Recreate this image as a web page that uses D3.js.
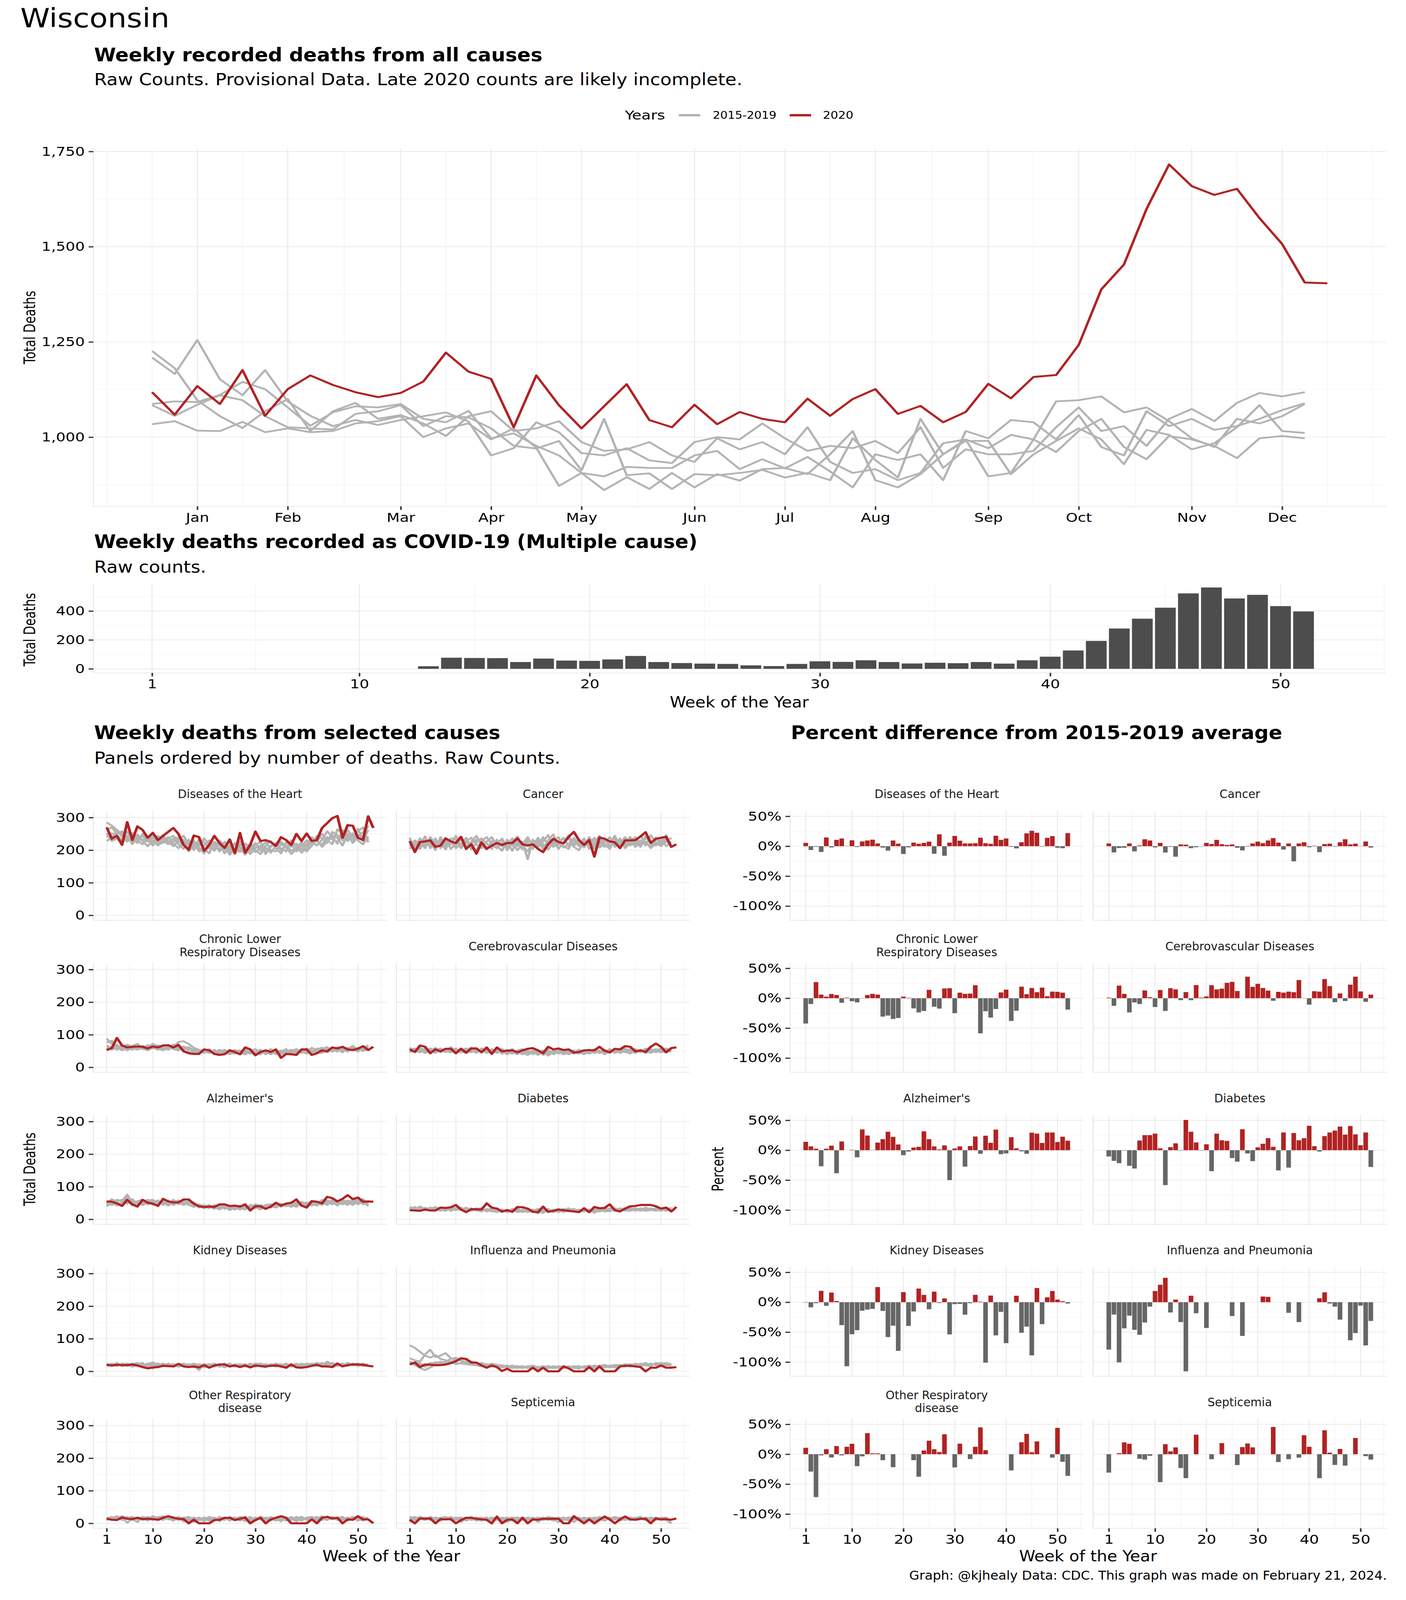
<!DOCTYPE html>
<html>
<head>
<meta charset="utf-8">
<script src="https://cdn.jsdelivr.net/npm/d3@7"></script>
<style>
  html, body { margin: 0; padding: 0; background: #fff; overflow: hidden; }
  svg { display: block; width: 100vw; height: 100vh; }
</style>
</head>
<body>
<script>
// ---------- data ----------
var monthTicks = [3, 7, 12, 16, 20, 25, 29, 33, 38, 42, 47, 51];
var monthLabels = ["Jan","Feb","Mar","Apr","May","Jun","Jul","Aug","Sep","Oct","Nov","Dec"];

var allCause2020 = [1118,1059,1134,1087,1176,1056,1126,1162,1137,1118,1105,1116,1146,1222,1172,1153,1026,1162,1084,1023,1081,1139,1045,1026,1085,1034,1066,1048,1039,1101,1056,1100,1126,1061,1082,1039,1066,1140,1102,1158,1163,1242,1388,1453,1599,1716,1659,1636,1652,1575,1507,1406,1404];
var allCausePastA = [1226,1181,1097,1055,1024,1068,1100,1016,1068,1090,1048,1058,1036,1003,1055,1068,1016,1023,1042,987,964,968,987,952,935,997,968,987,955,1026,935,906,916,887,906,984,994,971,1006,994,1094,1097,1107,1065,1078,1042,997,974,1048,1036,1055,1087];
var allCausePastB = [1209,1166,1255,1152,1110,1176,1094,1056,1029,1045,1032,1045,1055,1065,1041,952,971,1039,1013,958,952,971,939,932,987,1000,994,1036,997,964,977,971,990,958,1026,919,968,955,955,964,1026,1078,1016,1029,977,1048,1074,1042,1090,1116,1107,1118];
var allCausePastC = [1087,1094,1092,1111,1145,1126,1078,1030,1065,1081,1078,1087,1048,1039,1069,997,1010,977,952,906,897,922,919,919,952,964,916,942,918,948,910,868,955,940,955,887,1016,997,1045,1039,994,1058,974,952,1068,1029,1048,1019,1029,1048,1071,1089];
var allCausePastD = [1084,1056,1085,1110,1097,1055,1026,1023,1020,1061,1068,1084,1029,1055,1052,1023,977,970,990,913,1048,900,905,864,903,900,906,914,894,906,887,997,940,894,1048,955,990,990,903,955,990,1023,994,929,1019,1006,968,984,1026,1084,1016,1011];
var allCausePastE = [1034,1042,1017,1016,1040,1013,1023,1013,1016,1036,1042,1055,1000,1023,1036,994,1023,972,872,906,861,895,864,906,868,903,886,916,919,903,955,1016,887,868,903,955,994,897,906,994,961,1016,1048,974,942,1003,994,977,945,997,1003,997];

var covid2020 = [0,0,0,0,0,0,0,0,0,0,0,0,18,77,75,74,47,71,57,55,65,89,47,40,36,34,24,19,34,52,48,59,47,37,42,39,47,36,59,84,127,193,279,347,423,522,563,487,512,434,397,0];

var heart2020 = [270,235,244,216,286,231,273,262,238,253,231,244,256,268,250,216,201,245,240,198,216,244,222,207,233,190,253,192,216,257,228,231,225,213,240,231,216,250,228,251,228,231,268,283,298,305,238,277,275,238,231,304,268];
var heartPast = [
  [285,275,262,248,240,252,236,244,226,238,230,222,236,244,228,216,226,210,232,224,206,220,196,212,204,218,198,210,188,206,214,196,210,222,200,214,198,208,224,212,236,228,216,240,232,226,248,236,252,230,218,242],
  [262,270,250,258,234,226,248,230,242,222,244,230,218,226,240,230,206,224,214,236,218,198,222,190,214,200,226,204,220,194,208,226,200,196,220,206,222,196,212,230,218,244,236,222,256,246,230,262,240,258,270,224],
  [240,252,246,230,256,238,222,250,232,246,220,238,228,212,230,244,218,230,196,214,230,212,204,226,196,222,210,186,206,222,198,214,228,206,190,224,210,220,200,218,240,226,250,232,218,264,252,228,248,236,242,276],
  [228,238,258,242,226,244,230,218,236,214,232,246,222,236,218,204,232,200,222,206,190,226,214,200,228,190,216,212,198,214,226,188,214,218,206,196,230,212,192,206,226,214,232,258,240,220,262,244,230,266,228,262],
  [252,228,236,220,244,218,240,228,212,230,214,226,240,220,206,224,196,216,208,190,212,204,230,210,186,206,194,220,210,200,188,208,192,214,226,210,188,204,218,196,214,232,210,226,246,238,214,250,222,242,256,232]
];
var heartPct = [5.6,-6.3,-1,-9.6,14.6,-2,10.6,12.9,0.3,9.9,-1.3,7.9,9.6,10.9,4.6,-2.3,-7.3,9.6,4.3,-12.9,-2,6,4,5.6,7.6,-12.6,19.9,-15.9,6,17.2,9.3,4.6,4.6,5,14.2,5,4,17.5,10.6,12.9,-1,-3.6,6.6,21.5,25.8,22.5,-0.7,13.9,16.9,-2.6,-3.3,21.9];

var cancer2020 = [228,194,225,227,230,210,214,236,227,222,241,204,218,189,224,204,214,222,216,222,222,236,218,214,218,204,194,218,235,225,221,241,256,231,216,231,180,239,235,227,224,206,230,230,231,242,255,222,235,238,241,210,218];
var cancerPast = [
  [212,230,218,242,206,226,214,238,204,220,232,210,226,244,214,202,228,216,236,208,222,200,218,240,212,226,204,230,248,216,224,236,210,200,226,218,238,214,230,222,244,208,226,240,218,230,214,246,224,216,234,222],
  [230,208,236,214,226,200,240,216,228,206,218,238,202,224,236,220,204,232,212,226,198,234,210,222,204,238,218,202,226,240,208,220,230,212,236,204,222,244,210,228,216,236,206,222,232,210,242,220,230,238,212,226],
  [204,222,226,206,240,218,224,202,236,232,206,224,214,200,228,240,218,206,222,214,236,212,226,172,232,214,226,246,210,222,238,212,220,232,208,240,214,224,236,212,226,218,240,214,226,244,222,212,238,220,246,210],
  [222,216,204,230,214,236,206,226,218,244,212,228,238,218,206,226,240,214,198,232,214,224,202,230,220,208,240,216,234,204,222,246,214,226,218,230,206,220,224,240,210,228,218,232,210,224,236,228,214,232,224,238],
  [238,200,214,222,232,212,230,210,224,214,238,202,220,232,222,208,212,226,230,200,226,242,214,196,226,232,210,224,218,228,212,204,238,218,230,222,232,208,218,204,234,222,212,228,240,218,226,206,222,212,230,216]
];
var cancerPct = [4.6,-10.3,-3,-2.6,4.6,-8.6,1.3,11.6,9.6,-2,5.6,-10.6,-1,-17.5,3,2.6,-3.3,-1.7,0.3,5.6,3.6,10.6,3.3,2,3,-2.6,-7,-0.7,4.6,7.6,5,9.6,13.6,6,-5.6,4.6,-25.2,4.6,6.6,-1.7,0.7,-9.9,3.6,4.3,-0.7,6.6,11.6,3,4.3,0.3,7.9,-2.3];

var clrd2020 = [53,59,90,67,61,63,64,63,58,64,61,67,68,61,69,49,43,41,41,55,52,41,38,40,52,47,40,61,55,37,47,52,47,55,29,41,40,38,55,55,38,43,52,49,61,58,63,55,53,57,65,53,63];
var clrdPast = [
  [88,72,66,60,70,62,58,66,60,72,64,58,68,62,78,80,72,60,54,48,56,44,50,42,54,48,40,52,46,38,50,44,52,40,48,56,42,50,46,58,50,44,56,62,48,54,58,50,60,56,64,60],
  [76,82,60,68,58,66,72,60,68,62,56,66,60,70,64,56,62,52,46,54,48,52,42,50,46,54,44,40,50,56,42,48,40,50,44,52,48,40,54,46,60,52,48,56,52,62,50,56,66,52,58,68],
  [62,58,70,56,64,58,60,56,62,58,68,60,54,62,58,64,58,48,52,44,50,46,54,46,40,50,52,46,42,48,54,40,48,46,52,42,50,56,44,52,46,56,60,50,58,48,62,54,52,60,50,56],
  [56,64,54,62,52,60,54,62,56,64,58,52,62,56,52,60,54,56,42,50,44,54,40,48,52,44,48,54,46,44,40,52,44,54,40,48,54,46,50,42,52,48,44,52,60,56,46,60,56,48,62,54],
  [68,54,62,52,60,54,64,58,52,60,54,62,56,60,66,52,48,44,50,46,52,40,48,54,44,42,50,44,52,40,48,46,56,44,50,46,40,52,48,56,44,58,52,46,54,50,56,48,62,58,54,64]
];
var clrdPct = [-42.3,-9.7,27,6,2.7,7,5.3,-7.7,1,-5,-7,0.3,5.3,7.3,6,-30.7,-29,-34.7,-33,2.7,0.7,-17,-23.7,-21.3,14,-14.3,-17.3,16.3,16.7,-25,9.3,7.3,7.7,21.7,-58.7,-21.7,-32.3,-18,9.7,14.3,-38,-21,19.3,6.7,17,10,17.7,3.3,11,10.7,9.3,-19];

var cerebro2020 = [55,47,67,63,43,55,49,57,57,43,57,45,58,58,46,61,41,61,49,51,52,46,52,57,59,52,43,63,55,58,53,55,45,47,52,53,52,63,51,46,57,55,65,63,49,52,47,63,73,63,46,59,61];
var cerebroPast = [
  [60,52,56,48,58,50,54,46,62,50,56,48,52,44,58,50,46,54,42,50,56,44,48,52,40,46,52,36,48,54,44,50,46,42,52,48,56,46,50,44,54,48,58,50,44,52,48,56,50,46,54,58],
  [54,58,48,56,50,60,46,54,50,58,46,54,60,50,48,56,52,44,54,46,42,52,56,44,50,42,46,54,40,48,52,46,42,50,44,54,46,52,40,50,48,54,46,52,56,48,54,44,52,58,48,52],
  [50,48,60,52,46,54,58,50,46,54,52,58,46,54,52,46,56,48,50,40,50,48,40,50,46,54,38,44,50,42,48,54,50,46,40,50,44,48,54,46,52,44,50,56,48,54,44,50,56,48,46,56],
  [46,56,52,44,54,48,50,56,52,46,58,50,54,48,56,44,50,52,46,54,46,40,50,46,52,38,48,42,46,50,40,44,52,48,46,42,50,44,48,52,46,52,54,46,52,46,58,52,46,54,50,48],
  [58,50,46,58,52,44,52,48,56,52,48,44,50,58,46,52,44,50,56,48,52,46,44,38,48,50,44,50,44,46,50,40,46,54,48,46,52,50,46,56,44,50,48,42,54,50,46,54,48,52,58,50]
];
var cerebroPct = [1,-12.7,21,7.3,-23.7,-7,-9.7,13,1.7,-14.7,13.7,-21.3,16.7,14.7,-3.3,10.3,-3.3,22,1,3,21.7,14.7,16,25.7,27.3,12,0,36,19,24,17,12.7,-4.3,10.7,9.3,11,10,30.3,0.3,-10.7,11.7,11,32,20.3,-6.7,8,-4.7,22.7,36,11.3,-6,6];

var alz2020 = [55,54,49,41,60,46,39,60,51,48,41,63,55,52,52,61,61,48,40,38,39,38,46,46,41,42,39,46,27,40,40,32,39,51,42,48,51,61,42,36,56,54,49,69,65,55,63,74,62,67,54,55,54];
var alzPast = [
  [48,62,52,44,70,56,46,54,60,44,52,48,58,46,54,50,56,42,38,44,36,40,46,32,40,36,30,42,38,34,44,40,36,48,42,46,50,40,54,46,52,48,56,44,60,50,46,58,52,60,48,56],
  [40,50,56,60,48,58,52,44,50,56,46,54,42,52,58,46,48,52,40,34,42,38,30,40,28,36,42,34,40,38,30,44,46,38,44,40,48,52,44,50,42,54,48,58,52,46,62,50,56,46,54,44],
  [56,44,48,52,58,42,56,60,46,52,58,44,50,56,46,58,44,38,46,40,34,44,38,36,34,42,34,30,44,40,38,36,42,44,38,50,42,46,48,52,46,42,52,50,48,56,52,44,62,52,58,40],
  [52,56,42,48,52,62,44,50,54,48,42,58,54,44,52,54,50,46,36,42,40,32,42,38,30,34,38,40,32,42,34,40,38,42,48,44,38,48,42,46,56,50,44,54,46,52,48,56,48,64,46,52],
  [44,48,60,56,76,50,48,46,58,60,50,52,46,60,50,44,52,48,42,38,44,36,34,44,38,30,40,36,34,46,42,34,40,36,46,42,44,38,52,40,50,46,60,48,56,42,58,52,44,56,62,48]
];
var alzPct = [14,6.4,2.5,-26.8,2.5,7.6,-38.5,14.6,0,0.6,-11.8,34.7,24.5,0.3,12.7,18.5,30.9,22.3,9.6,-8.3,-2.2,4.5,5.7,31.5,18.5,6.4,1.3,8,-50,2.9,6.4,-27.4,7,22.9,-6,24.2,12.4,34.4,-6.7,-5.4,21.7,3.2,-1.9,-6,29.3,27.7,12.1,29.6,29.6,13.7,22.6,15.9];

var diab2020 = [28,27,26,30,27,27,36,35,37,44,30,22,31,31,30,49,36,33,24,28,23,38,37,33,23,22,39,23,26,30,28,26,24,22,34,22,38,34,35,46,28,24,33,40,41,44,44,44,40,33,36,24,38];
var diabPast = [
  [34,28,40,30,36,32,26,32,28,34,30,36,26,30,32,24,30,28,22,30,26,34,22,28,30,24,20,28,26,30,22,28,32,26,24,30,26,34,28,24,32,28,30,36,26,32,28,34,30,26,32,28],
  [28,36,30,34,28,38,30,26,34,28,36,26,32,28,24,32,26,22,30,24,32,26,28,22,26,32,28,24,30,22,28,34,24,30,28,26,32,24,30,34,26,34,28,30,34,28,36,30,26,34,28,36],
  [38,30,34,28,32,30,34,36,26,32,28,32,28,34,30,28,24,30,26,28,24,30,26,30,22,28,24,32,22,28,30,24,28,22,32,28,24,30,26,28,30,24,34,28,32,26,34,28,32,30,26,32],
  [30,34,26,36,30,28,32,28,36,30,34,30,34,26,28,30,32,26,28,22,28,24,30,26,28,18,30,26,28,32,26,30,26,28,30,22,28,26,32,30,28,32,26,32,28,34,30,32,28,32,30,26],
  [32,38,28,30,34,36,28,34,30,36,32,28,30,32,34,26,28,32,24,26,30,22,24,32,26,30,26,28,24,26,32,26,30,24,26,30,20,28,24,26,34,30,28,26,30,30,26,28,34,28,36,30]
];
var diabPct = [-10.5,-17.8,-21.7,-0.6,-26.1,-30.6,16.2,25.2,25.2,27.7,3.2,-58.3,5.1,11.5,-0.6,50.6,30.9,13,-0.6,9.9,-35,27.7,16.6,15.6,-13.1,-19.1,35,-5.4,-18.2,4.8,10.8,20.1,5.7,-33.8,29.6,-29,28.7,16.6,20.1,40.8,6.7,-2.2,23.6,29.6,32.8,39.5,26.1,40.4,26.4,8.3,29.6,-28];

var kidney2020 = [20,18,20,19,19,21,18,13,9,12,13,17,16,15,23,15,13,15,12,19,11,18,21,21,15,18,13,18,12,18,16,15,17,18,15,11,21,12,11,13,17,20,15,15,13,24,15,19,21,21,20,17,15];
var kidneyPast = [
  [22,18,26,16,20,24,18,14,22,28,18,22,16,20,14,18,22,16,20,12,18,24,14,20,16,22,18,14,20,18,24,16,22,18,14,20,16,22,18,24,20,16,22,14,26,18,20,16,22,24,18,20],
  [18,24,20,22,16,18,22,26,12,18,22,16,24,18,22,20,14,22,16,22,20,14,22,18,24,14,20,22,16,22,18,20,16,24,20,18,22,14,24,18,16,22,26,18,20,24,16,22,18,20,24,16],
  [16,20,16,24,22,14,20,18,24,8,20,24,18,16,20,24,18,12,22,18,14,20,18,12,20,18,22,16,24,14,20,22,18,14,22,16,20,18,14,20,24,18,14,22,18,20,24,18,24,16,20,22],
  [24,16,22,18,24,20,16,22,18,20,14,20,22,14,18,16,20,18,4,20,22,18,16,22,18,20,14,18,22,20,16,12,22,20,18,24,14,20,22,16,18,24,20,24,16,22,18,26,20,22,16,18],
  [20,22,18,20,18,22,26,16,20,22,24,18,20,22,16,22,18,24,18,16,20,16,20,24,14,18,22,20,18,24,22,18,20,22,16,22,18,24,16,22,20,26,18,30,22,16,22,20,24,18,22,20]
];
var kidneyPct = [-0.6,-8.5,-1.6,19,-6,16.1,1.9,-38.3,-107,-53.5,-46.8,-14.2,-12.3,-11.1,25.3,-14.6,-58.2,-39.2,-81.3,16.8,-39.6,-15.5,22.8,12.3,-11.7,17.7,-1.3,6.3,-53.8,-3.2,-2.8,-20.9,-1.6,12.3,0.9,-101,11.1,-55.4,-16.1,-68.4,0,10.8,-51,-40.8,-88.9,23.7,-36.7,8.2,18.7,4.4,1.6,-2.2];

var flu2020 = [21,27,13,21,20,19,19,21,25,31,40,38,27,27,18,11,18,13,1,8,0,0,0,0,11,0,11,0,0,0,15,9,0,0,0,13,0,15,0,0,0,15,17,17,15,13,0,11,11,18,11,11,13];
var fluPast = [
  [80,72,60,48,42,50,38,34,30,26,24,22,20,18,16,18,14,16,12,14,10,12,14,10,12,8,12,10,14,10,12,16,10,14,12,10,16,12,14,18,16,20,14,18,22,16,20,24,18,22,26,20],
  [40,34,30,52,66,44,48,56,40,36,32,28,26,24,20,22,18,20,16,12,18,14,10,16,12,14,10,16,12,14,10,12,16,12,14,18,12,16,20,14,18,16,22,20,16,24,18,22,20,26,20,24],
  [30,24,20,14,22,28,26,20,30,34,40,36,30,26,22,18,24,20,18,16,14,16,12,14,18,12,16,14,10,16,14,12,14,16,10,14,18,14,12,16,20,18,16,22,18,20,26,18,22,20,24,18],
  [26,20,10,4,12,20,24,30,38,42,34,28,24,22,26,20,16,14,18,12,16,10,14,12,8,14,12,10,16,12,14,10,12,8,16,12,14,18,16,12,14,18,20,16,24,18,22,20,24,18,22,16],
  [22,28,24,18,26,22,30,24,28,22,26,30,28,22,18,14,20,12,14,18,12,14,16,10,14,10,14,12,10,12,16,14,10,12,14,16,10,12,14,16,12,14,18,14,20,22,18,16,26,22,18,20]
];
var fluPct = [-79.1,-20.6,-100.6,-43.7,-22.5,-46.2,-54.4,-33.9,-7.3,18.7,29.1,40.8,-17.1,4.4,-33.2,-115.5,10.8,-18.4,null,-43,null,null,null,null,-23.1,null,-56.3,null,null,null,9.5,8.9,null,null,null,-17.7,null,-33.2,null,null,null,6.6,16.5,-2.2,-7.3,-29.1,null,-63.6,-51.6,-5.7,-72.2,-31.3];

var otherResp2020 = [14,11,10,18,14,13,17,13,14,13,11,17,22,17,14,13,0,11,0,0,0,10,11,17,17,10,14,18,0,10,17,0,12,17,22,17,0,0,0,0,12,0,17,20,15,17,0,12,11,22,12,12,0];
var otherRespPast = [
  [18,14,20,10,16,20,12,18,14,22,16,10,18,14,20,12,8,16,14,6,18,12,16,10,20,14,8,16,12,18,14,10,20,12,16,8,18,14,20,10,16,12,22,14,18,10,16,12,20,14,8,16],
  [14,20,12,18,2,14,18,10,20,14,18,22,12,16,10,18,14,4,12,18,14,8,20,12,16,10,18,6,14,12,20,16,8,18,12,14,10,20,12,16,14,20,10,18,12,16,20,8,14,18,12,14],
  [10,16,22,14,18,12,4,20,16,10,20,16,14,8,18,16,20,12,18,10,12,18,6,16,12,18,14,12,20,8,16,12,18,14,6,18,12,16,8,18,20,14,16,10,20,14,10,18,12,16,20,10],
  [16,12,16,22,14,18,16,14,8,18,12,18,20,12,16,6,12,18,10,16,8,16,14,18,8,16,12,20,10,16,12,18,14,8,18,16,14,6,16,12,18,8,14,20,16,12,18,14,16,8,14,18],
  [12,18,14,16,20,10,18,16,18,14,10,14,16,20,12,14,18,10,16,12,20,14,10,14,18,12,20,16,8,14,18,14,12,16,14,12,20,10,18,14,12,18,16,12,14,18,12,16,10,20,16,12]
];
var otherRespPct = [10.7,-29,-71.7,-1.9,8.3,-5.5,13.6,-1.9,12.4,17.4,-20,-3.6,35.2,1.4,1.4,-10,null,-21.7,null,null,null,-10,-37.6,6.2,22.6,8.3,3.6,33.3,null,-22.1,17.6,null,-8.1,12.4,44.8,6.7,null,null,null,null,-27.1,null,20,34,3.3,21.4,null,null,-5.7,44,-12.6,-36.2];

var sepsis2020 = [11,0,15,14,15,0,13,12,13,0,10,17,17,14,12,11,0,21,0,11,12,0,17,0,12,11,14,14,14,14,0,0,22,11,0,12,0,11,21,12,0,12,21,12,11,14,14,0,15,12,13,11,15];
var sepsisPast = [
  [18,10,16,12,20,14,8,16,12,18,4,14,20,10,16,12,18,14,10,16,8,14,18,12,16,4,14,10,18,12,16,8,14,18,12,16,10,20,14,12,18,8,16,12,18,14,10,16,12,18,14,0],
  [14,20,12,18,14,10,18,12,16,10,16,12,14,18,8,16,12,10,18,14,16,12,10,16,12,18,10,16,12,4,14,18,12,10,16,14,18,12,8,16,12,18,14,10,16,20,12,18,14,10,16,0],
  [4,14,20,16,10,18,14,12,18,14,12,18,10,14,18,8,14,18,12,4,12,18,14,10,18,12,16,14,8,16,12,18,16,14,6,18,12,14,18,10,16,12,20,14,10,12,18,14,16,12,10,0],
  [20,16,14,10,18,12,16,20,10,16,18,8,16,12,14,18,10,16,14,18,12,8,16,14,10,16,18,12,14,18,10,14,4,16,12,10,16,18,12,14,20,14,12,18,14,16,12,10,18,14,12,0],
  [10,18,16,14,12,16,10,14,20,12,14,16,18,8,12,14,16,12,8,14,18,16,12,18,14,10,12,20,16,14,18,12,16,10,18,14,8,16,14,18,12,16,10,16,12,18,14,12,10,16,18,0]
];
var sepsisPct = [-30.7,null,1.7,19.8,17.4,null,-7.6,-9,-2.6,null,-46.7,16.7,4.8,11.4,-23.1,-40,null,32.6,null,null,-8.3,null,18.6,null,null,-18.1,11.9,17.9,11.4,null,null,null,45.5,-13.1,null,-8.3,null,-5.7,31.7,12.4,null,-40,40,2.6,-17.9,8.8,-19,null,27.1,null,-3.3,-9];

var weekBreaks = [1, 10, 20, 30, 40, 50];
var countBreaks = [0, 100, 200, 300];
var pctBreaks = [-100, -50, 0, 50];
var allCauseBreaks = [1000, 1250, 1500, 1750];
var covidBreaks = [0, 200, 400];

// ---------- setup ----------
var RED = "#B22222", GRAY = "#B3B3B3", DARK = "#4D4D4D", NEG = "#666666";
var COND = '"Liberation Sans Narrow","Arial Narrow","DejaVu Sans Condensed",sans-serif';
var WIDE = '"DejaVu Sans",Verdana,sans-serif';

// the drawing is laid out on a 3600x5400 canvas and stretched to fill the window
var svg = d3.select("body").append("svg")
  .attr("viewBox", "0 0 3600 5400")
  .attr("preserveAspectRatio", "none");
svg.append("rect").attr("width", 3600).attr("height", 5400).attr("fill", "#fff");

function expand(lo, hi) { var r = hi - lo; return [lo - 0.05 * r, hi + 0.05 * r]; }

// ggplot style minor breaks: midpoints, plus one extra break each side
function minorBreaks(b, dom) {
  var bd = b[1] - b[0], bb = b.slice(), out = [];
  if (dom[0] < bb[0]) bb.unshift(bb[0] - bd);
  if (dom[1] > bb[bb.length - 1]) bb.push(bb[bb.length - 1] + bd);
  for (var i = 0; i < bb.length; i++) {
    out.push(bb[i]);
    if (i < bb.length - 1) out.push((bb[i] + bb[i + 1]) / 2);
  }
  return out.filter(function(v){ return v >= dom[0] && v <= dom[1] && b.indexOf(v) < 0; });
}

function text(g, x, y, str, size, opts) {
  opts = opts || {};
  var t = g.append("text").attr("x", x).attr("y", y).text(str)
    .style("font-family", opts.family || COND).style("font-size", size + "px")
    .style("font-weight", opts.weight || "normal").attr("fill", opts.fill || "#000")
    .attr("text-anchor", opts.anchor || "start");
  if (!opts.family) t.classed("cond", true);
  if (opts.len) t.attr("textLength", opts.len).attr("lengthAdjust", "spacingAndGlyphs");
  if (opts.rotate) t.attr("transform", "rotate(-90," + x + "," + y + ")");
  return t;
}

function grid(g, x, y, xb, yb) {
  var xr = x.range(), yr = y.range();
  var xm = minorBreaks(xb, x.domain()), ym = minorBreaks(yb, y.domain());
  g.append("g").selectAll("line").data(xm).join("line")
    .attr("x1", x).attr("x2", x).attr("y1", yr[0]).attr("y2", yr[1])
    .attr("stroke", "#F2F2F2").attr("stroke-width", 1.5);
  g.append("g").selectAll("line").data(ym).join("line")
    .attr("y1", y).attr("y2", y).attr("x1", xr[0]).attr("x2", xr[1])
    .attr("stroke", "#F2F2F2").attr("stroke-width", 1.5);
  g.append("g").selectAll("line").data(xb).join("line")
    .attr("x1", x).attr("x2", x).attr("y1", yr[0]).attr("y2", yr[1])
    .attr("stroke", "#EBEBEB").attr("stroke-width", 2.5);
  g.append("g").selectAll("line").data(yb).join("line")
    .attr("y1", y).attr("y2", y).attr("x1", xr[0]).attr("x2", xr[1])
    .attr("stroke", "#EBEBEB").attr("stroke-width", 2.5);
  g.append("line").attr("x1", xr[0]).attr("x2", xr[0]).attr("y1", yr[0]).attr("y2", yr[1])
    .attr("stroke", "#E3E3E3").attr("stroke-width", 2);
  g.append("line").attr("x1", xr[0]).attr("x2", xr[1]).attr("y1", yr[0]).attr("y2", yr[0])
    .attr("stroke", "#E3E3E3").attr("stroke-width", 2);
}

function styleAxis(a, size) {
  a.select(".domain").remove();
  a.selectAll(".tick line").attr("stroke", "#333333").attr("stroke-width", 4);
  a.selectAll(".tick text").classed("tick", true).attr("fill", "#000")
    .style("font-family", COND).style("font-size", size + "px");
}

function yAxis(g, y, left, breaks, fmt) {
  g.append("g").attr("transform", "translate(" + left + ",0)")
    .call(d3.axisLeft(y).tickValues(breaks).tickFormat(fmt).tickSize(12).tickPadding(10))
    .call(styleAxis, 43);
}

function xAxis(g, x, bottom, breaks, fmt) {
  g.append("g").attr("transform", "translate(0," + bottom + ")")
    .call(d3.axisBottom(x).tickValues(breaks).tickFormat(fmt).tickSize(12).tickPadding(10))
    .call(styleAxis, 43);
}

function seriesLine(x, y) {
  return d3.line().x(function(d, i){ return x(i + 1); }).y(function(d){ return y(d); });
}

// ---------- headings ----------
var head = svg.append("g");
text(head, 52, 92, "Wisconsin", 88, {len: 382});
text(head, 241, 207, "Weekly recorded deaths from all causes", 64, {weight: "bold", len: 1148});
text(head, 241, 288, "Raw Counts. Provisional Data. Late 2020 counts are likely incomplete.", 56, {len: 1660});

// legend
text(head, 1600, 403, "Years", 42, {len: 103});
head.append("line").attr("x1", 1738).attr("x2", 1793).attr("y1", 389).attr("y2", 389)
  .attr("stroke", GRAY).attr("stroke-width", 8);
text(head, 1825, 401, "2015-2019", 34, {len: 163});
head.append("line").attr("x1", 2022).attr("x2", 2077).attr("y1", 389).attr("y2", 389)
  .attr("stroke", RED).attr("stroke-width", 8);
text(head, 2107, 401, "2020", 34, {len: 78});

// ---------- panel 1: all causes ----------
(function() {
  var g = svg.append("g");
  var past = [allCausePastA, allCausePastB, allCausePastC, allCausePastD, allCausePastE];
  var all = d3.merge(past.concat([allCause2020]));
  var x = d3.scaleLinear().domain(expand(1, 53)).range([239, 3549]);
  var y = d3.scaleLinear().domain(expand(d3.min(all), d3.max(all))).range([1709, 500]);
  grid(g, x, y, monthTicks, allCauseBreaks);
  var line = seriesLine(x, y);
  g.append("g").selectAll("path").data(past).join("path").attr("d", line)
    .attr("fill", "none").attr("stroke", GRAY).attr("stroke-width", 6).attr("stroke-linejoin", "round");
  g.append("path").datum(allCause2020).attr("d", line)
    .attr("fill", "none").attr("stroke", RED).attr("stroke-width", 6.5).attr("stroke-linejoin", "round");
  yAxis(g, y, 239, allCauseBreaks, d3.format(","));
  xAxis(g, x, 1709, monthTicks, function(d, i){ return monthLabels[i]; });
  text(g, 90, 1105, "Total Deaths", 40, {family: WIDE, anchor: "middle", rotate: true});
})();

// ---------- panel 2: covid ----------
(function() {
  var g = svg.append("g");
  text(g, 241, 1850, "Weekly deaths recorded as COVID-19 (Multiple cause)", 64, {weight: "bold", len: 1545});
  text(g, 241, 1933, "Raw counts.", 56, {len: 287});
  var x = d3.scaleLinear().domain(expand(1, covid2020.length)).range([239, 3547]);
  var y = d3.scaleLinear().domain(expand(0, d3.max(covid2020))).range([2271, 1969]);
  grid(g, x, y, weekBreaks, covidBreaks);
  g.append("g").selectAll("rect").data(covid2020).join("rect")
    .attr("x", function(d, i){ return x(i + 1 - 0.45); })
    .attr("width", function(d, i){ return x(i + 1.45) - x(i + 0.55); })
    .attr("y", function(d){ return y(d); })
    .attr("height", function(d){ return y(0) - y(d); })
    .attr("fill", DARK);
  yAxis(g, y, 239, covidBreaks, d3.format("d"));
  xAxis(g, x, 2271, weekBreaks, d3.format("d"));
  text(g, 90, 2125, "Total Deaths", 40, {family: WIDE, anchor: "middle", rotate: true});
  text(g, 1893, 2388, "Week of the Year", 52, {anchor: "middle", len: 356});
})();

// ---------- small multiples ----------
var causes = [
  {name: "Diseases of the Heart", now: heart2020, past: heartPast, pct: heartPct},
  {name: "Cancer", now: cancer2020, past: cancerPast, pct: cancerPct},
  {name: "Chronic Lower\nRespiratory Diseases", now: clrd2020, past: clrdPast, pct: clrdPct},
  {name: "Cerebrovascular Diseases", now: cerebro2020, past: cerebroPast, pct: cerebroPct},
  {name: "Alzheimer's", now: alz2020, past: alzPast, pct: alzPct},
  {name: "Diabetes", now: diab2020, past: diabPast, pct: diabPct},
  {name: "Kidney Diseases", now: kidney2020, past: kidneyPast, pct: kidneyPct},
  {name: "Influenza and Pneumonia", now: flu2020, past: fluPast, pct: fluPct},
  {name: "Other Respiratory\ndisease", now: otherResp2020, past: otherRespPast, pct: otherRespPct},
  {name: "Septicemia", now: sepsis2020, past: sepsisPast, pct: sepsisPct}
];

var rowTops = [2737, 3250, 3763, 4276, 4789], panelH = 369;
var countCols = [239, 1015], pctCols = [2023, 2799], panelW = 751;

var countMax = d3.max(causes, function(c){ return d3.max(d3.merge(c.past.concat([c.now]))); });
var pctVals = d3.merge(causes.map(function(c){ return c.pct.filter(function(v){ return v !== null; }); }));
var countDomain = expand(0, countMax);
var pctDomain = expand(d3.min(pctVals), d3.max(pctVals));

function strip(g, cx, top, name) {
  var lines = name.split("\n");
  var ys = lines.length == 1 ? [top - 57] : [top - 81, top - 37];
  lines.forEach(function(s, i) {
    text(g, cx, ys[i], s, 40, {anchor: "middle", fill: "#1a1a1a"}).attr("dy", "0.35em");
  });
}

var sm = svg.append("g");
text(sm, 241, 2495, "Weekly deaths from selected causes", 64, {weight: "bold", len: 1040});
text(sm, 241, 2578, "Panels ordered by number of deaths. Raw Counts.", 56, {len: 1194});
text(sm, 2025, 2495, "Percent difference from 2015-2019 average", 64, {weight: "bold", len: 1258});

causes.forEach(function(c, k) {
  var row = Math.floor(k / 2), col = k % 2, top = rowTops[row], bottom = top + panelH;
  var isBottom = row == rowTops.length - 1;

  // raw counts panel
  var g = sm.append("g");
  var left = countCols[col];
  var x = d3.scaleLinear().domain(expand(1, 53)).range([left, left + panelW]);
  var y = d3.scaleLinear().domain(countDomain).range([bottom, top]);
  grid(g, x, y, weekBreaks, countBreaks);
  var line = seriesLine(x, y);
  g.append("g").selectAll("path").data(c.past).join("path").attr("d", line)
    .attr("fill", "none").attr("stroke", GRAY).attr("stroke-width", 6).attr("stroke-linejoin", "round");
  g.append("path").datum(c.now).attr("d", line)
    .attr("fill", "none").attr("stroke", RED).attr("stroke-width", 7).attr("stroke-linejoin", "round");
  if (col == 0) yAxis(g, y, left, countBreaks, d3.format("d"));
  if (isBottom) xAxis(g, x, bottom, weekBreaks, d3.format("d"));
  strip(g, left + panelW / 2, top, c.name);

  // percent difference panel
  var gp = sm.append("g");
  var pl = pctCols[col];
  var xp = d3.scaleLinear().domain(expand(0.55, c.pct.length + 0.45)).range([pl, pl + panelW]);
  var yp = d3.scaleLinear().domain(pctDomain).range([bottom, top]);
  grid(gp, xp, yp, weekBreaks, pctBreaks);
  var bars = c.pct.map(function(v, i){ return {week: i + 1, v: v}; }).filter(function(d){ return d.v !== null; });
  gp.append("g").selectAll("rect").data(bars).join("rect")
    .attr("x", function(d){ return xp(d.week - 0.45); })
    .attr("width", function(d){ return xp(d.week + 0.45) - xp(d.week - 0.45); })
    .attr("y", function(d){ return yp(Math.max(0, d.v)); })
    .attr("height", function(d){ return Math.abs(yp(d.v) - yp(0)); })
    .attr("fill", function(d){ return d.v > 0 ? RED : NEG; });
  if (col == 0) yAxis(gp, yp, pl, pctBreaks, function(d){ return d + "%"; });
  if (isBottom) xAxis(gp, xp, bottom, weekBreaks, d3.format("d"));
  strip(gp, pl + panelW / 2, top, c.name);
});

text(sm, 90, 3946, "Total Deaths", 40, {family: WIDE, anchor: "middle", rotate: true});
text(sm, 1852, 3946, "Percent", 40, {family: WIDE, anchor: "middle", rotate: true});
text(sm, 1002, 5270, "Week of the Year", 52, {anchor: "middle", len: 353});
text(sm, 2786, 5270, "Week of the Year", 52, {anchor: "middle", len: 353});
text(sm, 3551, 5332, "Graph: @kjhealy Data: CDC. This graph was made on February 21, 2024.", 42, {anchor: "end", len: 1223});

// narrow the fallback font towards a condensed face
svg.selectAll("text.cond").each(function() {
  if (this.hasAttribute("textLength")) return;
  d3.select(this).attr("textLength", this.getComputedTextLength() * 0.82).attr("lengthAdjust", "spacingAndGlyphs");
});
</script>
</body>
</html>
